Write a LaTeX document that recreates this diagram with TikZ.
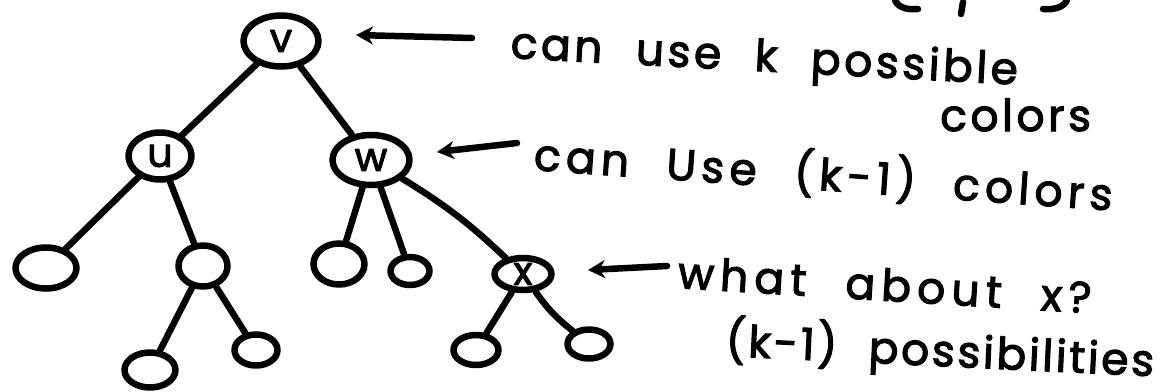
\documentclass[tikz,border=0pt]{standalone}
\usepackage{fontspec}
\usetikzlibrary{shapes.geometric,arrows.meta}
\newfontfamily\hand{Poppins}[FakeBold=2.5, WordSpace=2.2]
\tikzset{
  stroke/.style={line width=6.5pt, line cap=round, line join=round},
  vert/.style={ellipse, draw, stroke, inner sep=0pt, minimum width=#1},
  lbl/.style={font=\hand\fontsize{40}{40}\selectfont},
  note/.style={font=\hand\fontsize{44}{44}\selectfont\addfontfeatures{LetterSpace=#1}, anchor=base west, inner sep=0pt},
  pointer/.style={stroke, -{Stealth[length=17pt,width=18pt]}},
}
\begin{document}
\begin{tikzpicture}[x=1pt,y=-1pt]
\useasboundingbox (0,0) rectangle (1164,391);
% tree vertices
\node[vert=75pt, minimum height=51pt, lbl] (v) at (281,41) {v};
\node[vert=63pt, minimum height=47pt, lbl] (u) at (160,156) {u};
\node[vert=77pt, minimum height=50pt, lbl] (w) at (371,160) {w};
\node[vert=61pt, minimum height=41pt] (l1) at (46,268) {};
\node[vert=49pt, minimum height=41pt] (n2) at (203,266) {};
\node[vert=51pt, minimum height=35pt] (la) at (150,370) {};
\node[vert=43pt, minimum height=31pt] (lb) at (256,350) {};
\node[vert=51pt, minimum height=41pt] (lc) at (339,264) {};
\node[vert=39pt, minimum height=28pt] (ld) at (410,271) {};
\node[vert=57pt, minimum height=32pt, lbl] (x) at (523,274) {x};
\node[vert=45pt, minimum height=30pt] (le) at (476,350) {};
\node[vert=43pt, minimum height=29pt] (lf) at (589,344) {};
% edges
\draw[stroke] (v) -- (u);
\draw[stroke] (v) -- (w);
\draw[stroke] (u) -- (l1);
\draw[stroke] (u) -- (n2);
\draw[stroke] (n2) -- (la);
\draw[stroke] (n2) -- (lb);
\draw[stroke] (w) -- (lc);
\draw[stroke] (w) -- (ld);
\draw[stroke] (w) to[bend left=6] (x);
\draw[stroke] (x) -- (le);
\draw[stroke] (x) to[bend right=8] (lf);
% pointers
\coordinate (a1s) at (472,38); \coordinate (a1e) at (356,35);
\coordinate (a2s) at (517,143); \coordinate (a2e) at (437,152);
\coordinate (a3s) at (667,266); \coordinate (a3e) at (588,270);
\draw[pointer] (a1s) -- (a1e);
\draw[pointer] (a2s) -- (a2e);
\draw[pointer] (a3s) -- (a3e);
% notes
\node[note=8, rotate=-3] (t1) at (510,58) {can use k possible};
\node[note=8] (t2) at (940,131) {colors};
\node[note=12, rotate=-4] (t3) at (533,170) {can Use (k-1) colors};
\node[note=14, rotate=-3.5] (t4) at (677,288) {what about x?};
\node[note=6, rotate=-2.7] (t5) at (725,356) {(k-1) possibilities};
% cut-off strokes at the top edge
\draw[stroke] (895,0) .. controls (898,8) and (908,10) .. (918,9);
\draw[stroke] (963,2) -- (961,14);
\draw[stroke] (1043,9) .. controls (1055,10) and (1064,7) .. (1067,0);
\end{tikzpicture}
\end{document}
